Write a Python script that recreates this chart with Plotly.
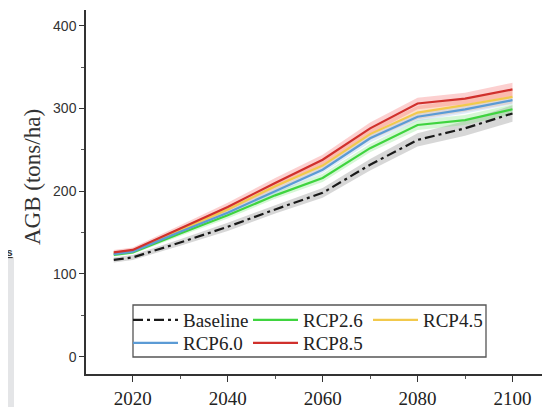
import plotly.graph_objects as go

years = [2016, 2020, 2030, 2040, 2050, 2060, 2070, 2080, 2090, 2100]
baseline = [117, 120, 138, 157, 178, 198, 232, 262, 276, 294]
rcp26 = [123, 126, 149, 171, 195, 216, 252, 280, 286, 299]
rcp45 = [125, 128, 153, 178, 206, 231, 269, 295, 304, 314]
rcp60 = [124, 127, 151, 174, 200, 226, 264, 290, 299, 310]
rcp85 = [126, 129, 155, 181, 210, 238, 276, 306, 312, 323]

base_err = [3, 3, 4, 5, 5, 6, 7, 8, 9, 10]
rcp26_err = [2, 2, 3, 4, 4, 5, 5, 6, 6, 6]
rcp45_err = [2, 2, 3, 4, 5, 6, 7, 8, 8, 8]
rcp60_err = [2, 2, 3, 3, 4, 4, 5, 5, 5, 5]
rcp85_err = [3, 3, 4, 5, 6, 6, 7, 7, 7, 8]

series = [
    ("Baseline", baseline, base_err, "#1a1a1a", "rgba(140,140,140,0.35)", "10px,4px,3px,4px", "legend"),
    ("RCP2.6", rcp26, rcp26_err, "#3fd43f", "rgba(120,230,120,0.30)", "solid", "legend"),
    ("RCP4.5", rcp45, rcp45_err, "#f2c94c", "rgba(250,170,110,0.35)", "solid", "legend"),
    ("RCP6.0", rcp60, rcp60_err, "#5b9bd5", "rgba(150,190,235,0.30)", "solid", "legend2"),
    ("RCP8.5", rcp85, rcp85_err, "#d0302c", "rgba(245,120,120,0.35)", "solid", "legend2"),
]

fig = go.Figure()

for name, vals, err, col, band, dash, lg in series:
    upper = [v + e for v, e in zip(vals, err)]
    lower = [v - e for v, e in zip(vals, err)]
    fig.add_trace(go.Scatter(
        x=years + years[::-1], y=upper + lower[::-1], fill="toself",
        fillcolor=band, line=dict(width=0), mode="lines",
        showlegend=False, hoverinfo="skip"))

for name, vals, err, col, band, dash, lg in series:
    fig.add_trace(go.Scatter(
        x=years, y=vals, mode="lines", name=name, legend=lg,
        line=dict(color=col, width=2.2, dash=dash)))

# the page body adds an 8px offset; target positions below are in screenshot pixels
OFF = 8
W, H = 550, 407
ml, mr, mt, mb = 78, 8, 2, 41
pw, ph = W - ml - mr, H - mt - mb

def px(x):
    return (x - OFF - ml) / pw

def py(y):
    return (H - mb - (y - OFF)) / ph

legend_font = dict(family="Liberation Serif", size=19, color="#222")

fig.update_layout(
    width=W, height=H,
    margin=dict(l=ml, r=mr, t=mt, b=mb),
    paper_bgcolor="white", plot_bgcolor="white",
    xaxis=dict(
        range=[2010.15, 2107.9], tickvals=[2020, 2040, 2060, 2080, 2100],
        showgrid=False, zeroline=False, showline=True, linecolor="#333", linewidth=1.5,
        ticks="outside", ticklen=6, tickwidth=1.3, tickcolor="#333", automargin=False,
        minor=dict(tickvals=[2030, 2050, 2070, 2090], ticks="outside", ticklen=3, tickcolor="#555"),
        tickfont=dict(family="Liberation Serif", size=19, color="#222"),
    ),
    yaxis=dict(
        range=[-20.9, 419], tickvals=[0, 100, 200, 300, 400],
        showgrid=False, zeroline=False, showline=True, linecolor="#333", linewidth=1.5,
        ticks="outside", ticklen=5, tickwidth=1.3, tickcolor="#333", automargin=False,
        minor=dict(tickvals=[50, 150, 250, 350], ticks="outside", ticklen=3, tickcolor="#555"),
        tickfont=dict(family="Liberation Sans", size=14, color="#333"),
    ),
    legend=dict(orientation="h", x=px(128), y=py(320), xanchor="left", yanchor="middle",
                entrywidth=60, entrywidthmode="pixels", itemwidth=45, font=legend_font,
                bgcolor="rgba(0,0,0,0)", borderwidth=0, traceorder="normal"),
    legend2=dict(orientation="h", x=px(128), y=py(343), xanchor="left", yanchor="middle",
                 entrywidth=60, entrywidthmode="pixels", itemwidth=45, font=legend_font,
                 bgcolor="rgba(0,0,0,0)", borderwidth=0, traceorder="normal"),
    shapes=[
        dict(type="rect", xref="paper", yref="paper", x0=px(133), x1=px(486),
             y0=py(357), y1=py(305), line=dict(color="#555", width=1.3), fillcolor="rgba(0,0,0,0)"),
        dict(type="rect", xref="paper", yref="paper", x0=px(0), x1=px(14),
             y0=py(407), y1=py(257), line=dict(width=0), fillcolor="#e4e5e7", layer="below"),
    ],
    annotations=[
        dict(text="AGB (tons/ha)", textangle=-90,
             xref="paper", yref="paper",
             x=px(32), y=py(177), showarrow=False, xanchor="center", yanchor="middle",
             font=dict(family="Liberation Serif", size=23, color="#333")),
        dict(text="<b><span style='text-decoration:underline'>ws</span></b>", xref="paper", yref="paper",
             x=px(15), y=py(252), showarrow=False, xanchor="right", yanchor="middle",
             font=dict(family="Liberation Sans", size=11, color="#333")),
    ],
)

fig.write_html("out.html")
